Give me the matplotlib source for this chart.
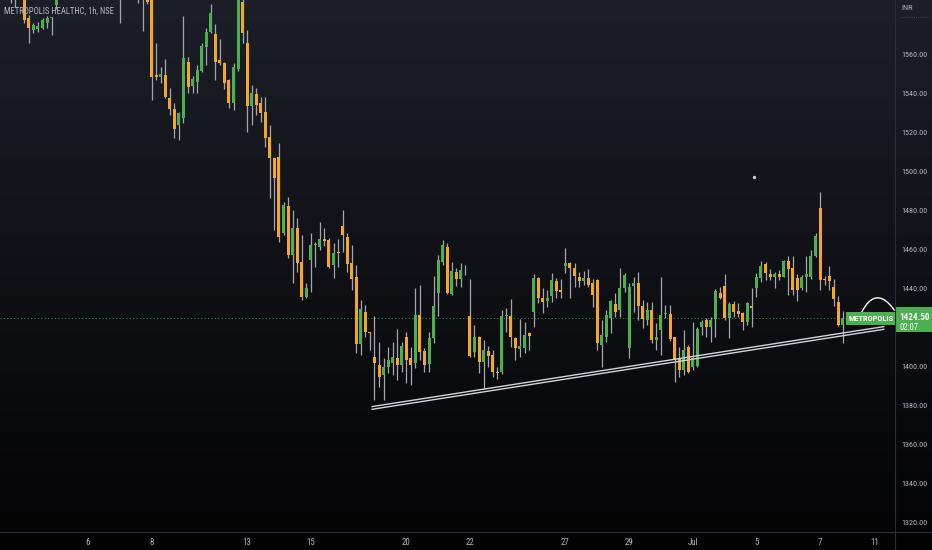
import matplotlib
matplotlib.use("Agg")
import matplotlib.pyplot as plt
import numpy as np
from matplotlib import font_manager
from matplotlib.font_manager import FontProperties
from matplotlib.patches import Rectangle, PathPatch
from matplotlib.path import Path
from matplotlib.transforms import blended_transform_factory

# hourly bars, index 0 = first bar of 6 Jun (NSE, 7 bars per session)
first_bar = -19
opens = [1605, 1602, 1598, 1594, 1597, 1601, 1578.5, 1572.3, 1573, 1573.3, 1575.9, 1578.3, 1585,
         1598, 1604, 1610, 1606, 1612, 1608,
         1620, 1612, 1606, 1610, 1603, 1607, 1600,
         1596, 1593, 1598, 1604, 1597, 1600, 1594,
         1590, 1549, 1548.2, 1549.2, 1537.4, 1531.8, 1523.6,
         1527.2, 1555.9, 1543.6, 1545.6, 1551.3, 1563.6, 1571.3,
         1570.3, 1556.9, 1555.4, 1546.7, 1534.9, 1552.3, 1586.8,
         1565.6, 1533.3, 1539.5, 1534.9, 1530.3, 1517.4, 1506.7,
         1507.2, 1468.2, 1482, 1456.9, 1470.8, 1453.3, 1435.4,
         1454.4, 1462, 1461, 1465.1, 1464.6, 1451.8, 1458.5,
         1471.8, 1466.2, 1452.8, 1445.6, 1411.3, 1427.7, 1417.2,
         1404.6, 1400.5, 1395.4, 1399.5, 1401.5, 1404.1, 1400.5,
         1414.9, 1404.1, 1401.5, 1426.2, 1407.7, 1401, 1414.4,
         1437.4, 1453.3, 1461, 1436.9, 1448.2, 1444.6, 1448,
         1425.6, 1407.2, 1414.9, 1402, 1407.7, 1405.6, 1397,
         1396.9, 1425.6, 1425.6, 1414.4, 1408.7, 1409.2, 1417,
         1427.7, 1445.1, 1434.9, 1433.3, 1435.9, 1443.6, 1439,
         1451.3, 1452.8, 1450.3, 1445.6, 1443.6, 1445.1, 1442.6,
         1444.1, 1410.8, 1414.9, 1424.6, 1431.8, 1428.7, 1440,
         1409.2, 1441, 1442.6, 1430.8, 1423.6, 1428.7, 1413.3,
         1418.5, 1426.7, 1426.7, 1414.9, 1404.1, 1398, 1409.7,
         1399.5, 1400, 1420, 1423.6, 1420, 1424.1, 1437.4,
         1441, 1424.6, 1431.8, 1428.2, 1427.2, 1422.6, 1430.8,
         1440, 1445.1, 1452.3, 1447.2, 1445.6, 1447.2, 1445.6,
         1453.8, 1450.3, 1445.1, 1440, 1445.6, 1445.6, 1456.4,
         1481, 1444.6, 1446.2, 1440.5, 1432.8, 1421]
highs = [1612, 1608, 1602, 1600, 1605, 1604, 1580, 1576, 1576.4, 1578.5, 1579.5, 1579, 1603,
         1608, 1614, 1615, 1616, 1614, 1618,
         1626, 1615, 1613, 1612, 1610, 1609, 1602,
         1600, 1602, 1608, 1606, 1603, 1603, 1597,
         1592, 1565.6, 1553.3, 1557.4, 1542.6, 1534.9, 1530.3,
         1579.5, 1558.5, 1548.7, 1554.4, 1565.6, 1573.3, 1585.6,
         1575.4, 1567.7, 1555.9, 1547.2, 1555.4, 1594, 1590,
         1572.3, 1544.1, 1542.6, 1538, 1538, 1523.6, 1507.2,
         1514.4, 1484.1, 1486.7, 1480, 1475.9, 1467.2, 1442.6,
         1468.2, 1463.6, 1473.8, 1470.8, 1465.6, 1463, 1465,
         1480, 1468.2, 1462, 1451.8, 1433.8, 1431.3, 1417.4,
         1425.6, 1412.3, 1404.1, 1409.7, 1412.3, 1419, 1412.3,
         1417.4, 1409.7, 1440, 1441.5, 1409.2, 1417.4, 1446.2,
         1456.9, 1464.6, 1463, 1453.3, 1450.3, 1452.8, 1451.8,
         1444.6, 1421, 1415.4, 1413.3, 1410.3, 1408.2, 1399.5,
         1428.7, 1429.7, 1434.4, 1414.9, 1424.1, 1422.6, 1417.4,
         1447.2, 1445.6, 1440, 1439, 1447.7, 1445.1, 1444.6,
         1460.5, 1453.3, 1452.8, 1448.2, 1448.7, 1449.7, 1444.6,
         1444.6, 1423.6, 1428.7, 1433.8, 1437.4, 1450.3, 1447.7,
         1442.6, 1445.6, 1448.2, 1433.8, 1432.8, 1432.8, 1422,
         1445.6, 1431.3, 1431.3, 1414.9, 1409.7, 1418.5, 1410.8,
         1422.6, 1420, 1423.6, 1424.6, 1425.1, 1439.5, 1440.5,
         1447.2, 1432.8, 1433.3, 1432.3, 1427.7, 1432.8, 1440,
         1447.7, 1453.8, 1453.3, 1449.7, 1448.2, 1449.2, 1454.4,
         1456.4, 1456.4, 1447.2, 1446.7, 1456.4, 1459.5, 1468.2,
         1489.2, 1446.2, 1451.3, 1444.6, 1435.9, 1428]
lows = [1596, 1590, 1586, 1584, 1592, 1576, 1565.6, 1570.8, 1571.3, 1572.8, 1573.3, 1569.7, 1583,
        1594, 1601, 1602, 1603, 1604, 1605,
        1608, 1601, 1600, 1598, 1596, 1594, 1592,
        1576, 1590, 1594, 1592, 1586, 1572, 1585.5,
        1536.4, 1546.7, 1545.1, 1537.4, 1528.7, 1516.9, 1515.9,
        1524.6, 1540, 1540, 1540, 1550.8, 1554.4, 1570.8,
        1546.7, 1554.4, 1542, 1532.3, 1531.3, 1551.5, 1565.6,
        1520, 1523.6, 1528.7, 1525.1, 1512.3, 1486.2, 1469.7,
        1463.6, 1467.2, 1455.4, 1442.6, 1448.2, 1433.8, 1434.9,
        1437.9, 1450.8, 1459.5, 1461.5, 1450.3, 1445.1, 1450.8,
        1458.5, 1448.2, 1439, 1406.7, 1405.6, 1414.9, 1408.2,
        1382.6, 1389.2, 1382.6, 1396.4, 1395.4, 1392.8, 1396.9,
        1391.3, 1390.3, 1399, 1403.1, 1396.9, 1396.9, 1412,
        1425.6, 1451.8, 1437, 1436.4, 1441, 1440.5, 1446.7,
        1404.6, 1404.6, 1396.4, 1388.2, 1399.5, 1394.4, 1393.3,
        1395.9, 1417.4, 1409.7, 1403.1, 1404.6, 1406.7, 1408.2,
        1420, 1432.3, 1427.2, 1430.3, 1432.8, 1434.9, 1434.9,
        1447.7, 1434.9, 1440.5, 1440.5, 1441.5, 1440.5, 1430.3,
        1408.2, 1399.5, 1412.3, 1416.9, 1425.1, 1425.1, 1438,
        1404.1, 1427.7, 1423.6, 1419.5, 1421, 1411.8, 1408.2,
        1405.6, 1424.6, 1412.8, 1391.8, 1394.4, 1395.4, 1396.4,
        1398, 1399.5, 1416, 1415, 1412.3, 1415, 1434.4,
        1423.6, 1414.4, 1425.1, 1425.1, 1418.5, 1421, 1420,
        1435.4, 1443.1, 1444.1, 1444.1, 1440, 1444.1, 1445.6,
        1436.4, 1436.4, 1433.3, 1439, 1438, 1444.6, 1455.9,
        1439, 1441.5, 1439, 1430.8, 1420.5, 1412]
closes = [1600, 1598, 1594, 1597, 1601, 1577.4, 1573.3, 1574.9, 1574.4, 1577.4, 1578.5, 1578.6, 1598,
          1604, 1610, 1606, 1612, 1608, 1615,
          1612, 1606, 1610, 1603, 1607, 1600, 1596,
          1593, 1598, 1604, 1597, 1600, 1594, 1586.6,
          1548.2, 1548, 1549.7, 1538, 1531.8, 1521.5, 1529.7,
          1558, 1543, 1547.2, 1551.8, 1564.1, 1571.3, 1581,
          1555.9, 1555.4, 1545.1, 1534.9, 1553.3, 1590, 1570.8,
          1533.3, 1540, 1533.8, 1529.7, 1516.9, 1506.7, 1496.4,
          1466.2, 1482.6, 1456.9, 1470.8, 1452.8, 1435.4, 1440,
          1462, 1462.3, 1465, 1464.1, 1450.8, 1458, 1458,
          1467.2, 1452.3, 1444.6, 1411.3, 1429.2, 1417.4, 1417,
          1401.5, 1394.4, 1399.5, 1403.1, 1404.6, 1400.5, 1410.3,
          1403.1, 1400.5, 1426.2, 1407.2, 1400.5, 1414.4, 1430.8,
          1454.4, 1462, 1437.4, 1448.7, 1444.6, 1449.2, 1448.2,
          1405, 1414.9, 1402, 1408.2, 1405.1, 1396.9, 1396.4,
          1425.6, 1425.8, 1414.9, 1409.2, 1410.3, 1415.9, 1415.4,
          1445.1, 1434.9, 1432.8, 1434.9, 1444.1, 1438.5, 1438,
          1452.8, 1450.3, 1446.2, 1443.6, 1445.1, 1441.5, 1436.4,
          1411.8, 1415.9, 1426.2, 1433.3, 1427.7, 1440, 1446.7,
          1440.5, 1442.6, 1430.8, 1424.1, 1428.7, 1413.3, 1414.9,
          1426.2, 1426.9, 1413.8, 1403.1, 1398, 1408.2, 1396.9,
          1404.1, 1419, 1422.6, 1420, 1423.6, 1438.5, 1434.9,
          1424.6, 1431.8, 1427.7, 1426.7, 1422.6, 1432.3, 1429.7,
          1445.6, 1451.3, 1447.7, 1445.6, 1447.2, 1445.6, 1453.8,
          1449.7, 1439, 1439, 1445.6, 1447, 1456.4, 1466.7,
          1444.1, 1444.1, 1443.6, 1434.4, 1421, 1424.5]

last_price = 1424.5
price_ticks = [1320, 1340, 1360, 1380, 1400, 1440, 1460, 1480, 1500, 1520, 1540, 1560]
day_labels = ["6", "8", "13", "15", "20", "22", "27", "29", "Jul", "5", "7", "11"]
day_bars = [0, 14, 35, 49, 70, 84, 105, 119, 133, 147, 161, 173]

# drawing tools on the chart
trend_bars = [62.5, 175.0]
trend_upper = [1379.2, 1420.2]
trend_lower = [1377.8, 1418.8]
arc_bars = [170.0, 172.2, 174.8, 177.4]
arc_prices = [1426.8, 1437.6, 1437.2, 1428.4]
dot_bar, dot_price = 146.5, 1497.0

UP, DOWN, WICK = "#4caf50", "#f5a623", "#a3a6ae"
TXT = "#b2b5be"


def narrow_font(bold=False):
    # look for an installed narrow / condensed face, else condensed DejaVu request
    order = ["liberation", "roboto", "open", "noto", "dejavu"]
    found = []
    for f in font_manager.fontManager.ttflist:
        key = (f.name + " " + f.fname).lower()
        if not ("narrow" in key or "condensed" in key or "cond" in key):
            continue
        if f.style != "normal" or "italic" in key:
            continue
        w = f.weight if isinstance(f.weight, int) else (700 if "bold" in str(f.weight) else 400)
        if "light" in key or "semibold" in key or "medium" in key or "black" in key:
            continue
        if bold != (w >= 600 or "bold" in key):
            continue
        rank = next((i for i, k in enumerate(order) if k in key), len(order))
        found.append((rank, f.fname))
    if found:
        return FontProperties(fname=sorted(found)[0][1])
    return FontProperties(family="DejaVu Sans", stretch="condensed",
                          weight="bold" if bold else "normal")


font_reg = narrow_font(False)
font_bold = narrow_font(True)


def fp(base, size):
    p = base.copy()
    p.set_size(size)
    return p


W, H = 932, 550
fig = plt.figure(figsize=(W / 100, H / 100), dpi=100)

# background gradient, dark slate at top to black at bottom
bg = fig.add_axes([0, 0, 1, 1], zorder=-5)
grad = np.linspace(0, 1, 256)[:, None]
top, bot = np.array([0x1c, 0x1f, 0x27]) / 255, np.array([0x03, 0x03, 0x04]) / 255
img = top[None, None, :] * (1 - grad[..., None]) + bot[None, None, :] * grad[..., None]
bg.imshow(img, aspect="auto", extent=[0, 1, 0, 1], origin="upper")
bg.axis("off")

ax = fig.add_axes([0, 18 / H, 895 / W, 532 / H])
ax.set_facecolor("none")

x = np.arange(first_bar, first_bar + len(opens))
o, h, l, c = map(np.array, (opens, highs, lows, closes))
up = c >= o
ax.vlines(x, l, h, color=WICK, lw=0.9, zorder=2)
body_lo = np.minimum(o, c)
body_h = np.maximum(np.abs(c - o), 0.45)
ax.bar(x, body_h, bottom=body_lo, width=0.66, color=np.where(up, UP, DOWN),
       edgecolor="none", zorder=3)

ax.set_xlim(-88 / 4.547, (895 - 88) / 4.547)
ax.set_ylim(1560 - 478 / 1.95, 1560 + 54 / 1.95)

# last price dotted line
ax.axhline(last_price, color=UP, lw=0.7, ls=(0, (1, 2.5)), alpha=0.8, zorder=1)

# trend line (drawn as a double line)
ax.plot(trend_bars, trend_upper, color="#d1d4dc", lw=1.0, zorder=4)
ax.plot(trend_bars, trend_lower, color="#d1d4dc", lw=1.0, zorder=4)

# arc drawing near the last bar
verts = list(zip(arc_bars, arc_prices))
arc = Path(verts, [Path.MOVETO, Path.CURVE4, Path.CURVE4, Path.CURVE4])
ax.add_patch(PathPatch(arc, fc="none", ec="white", lw=1.0, zorder=5, clip_on=False))
ax.plot(dot_bar, dot_price, marker="o", ms=1.4, color="#d0d0d0", zorder=5)

# symbol label on the last price
ax.text(167.3, last_price, "METROPOLIS", color="white", fontproperties=fp(font_bold, 6.0),
        va="center", ha="left", zorder=6,
        bbox=dict(boxstyle="square,pad=0.35", fc=UP, ec="none"))

ax.set_yticks(price_ticks)
ax.set_yticklabels([f"{v:.2f}" for v in price_ticks])
ax.yaxis.tick_right()
ax.set_xticks(day_bars)
ax.set_xticklabels(day_labels)
ax.tick_params(axis="both", length=0, colors=TXT)
ax.tick_params(axis="y", pad=4.5)
ax.tick_params(axis="x", pad=4)
for lbl in ax.get_xticklabels():
    lbl.set_fontproperties(fp(font_reg, 6.4))
for lbl in ax.get_yticklabels():
    lbl.set_fontproperties(fp(font_reg, 5.9))
for s in ax.spines.values():
    s.set_visible(False)

# pane separators
fig.add_artist(plt.Line2D([895 / W, 895 / W], [0, 1], color="#2a2e39", lw=0.8))
fig.add_artist(plt.Line2D([0, 1], [18 / H, 18 / H], color="#2a2e39", lw=0.8))

# price tag on the axis
tr = blended_transform_factory(fig.transFigure, ax.transData)
ax.add_patch(Rectangle((896 / W, last_price - 7.1), 36 / W, 12.8, transform=tr,
                       fc=UP, ec="none", clip_on=False, zorder=6))
ax.text(899 / W, last_price + 0.3, f"{last_price:.2f}", transform=tr, color="white",
        fontproperties=fp(font_bold, 6.6), va="center", ha="left", zorder=7, clip_on=False)
ax.text(899 / W, last_price - 5.0, "02:07", transform=tr, color="white",
        fontproperties=fp(font_reg, 6.2), va="center", ha="left", zorder=7, clip_on=False)

fig.text(4 / W, 1 - 11 / H, "METROPOLIS HEALTHC, 1h, NSE", color=TXT,
         fontproperties=fp(font_reg, 6.2), va="center", ha="left")
fig.text(901 / W, 1 - 8 / H, "INR", color=TXT, fontproperties=fp(font_reg, 6.0),
         va="center", ha="left")
fig.add_artist(plt.Line2D([901 / W, 927 / W], [1 - 17 / H, 1 - 17 / H], color="#50535e",
                          lw=0.6, ls=(0, (1, 1.5))))

fig.savefig("out.png", dpi=100)
